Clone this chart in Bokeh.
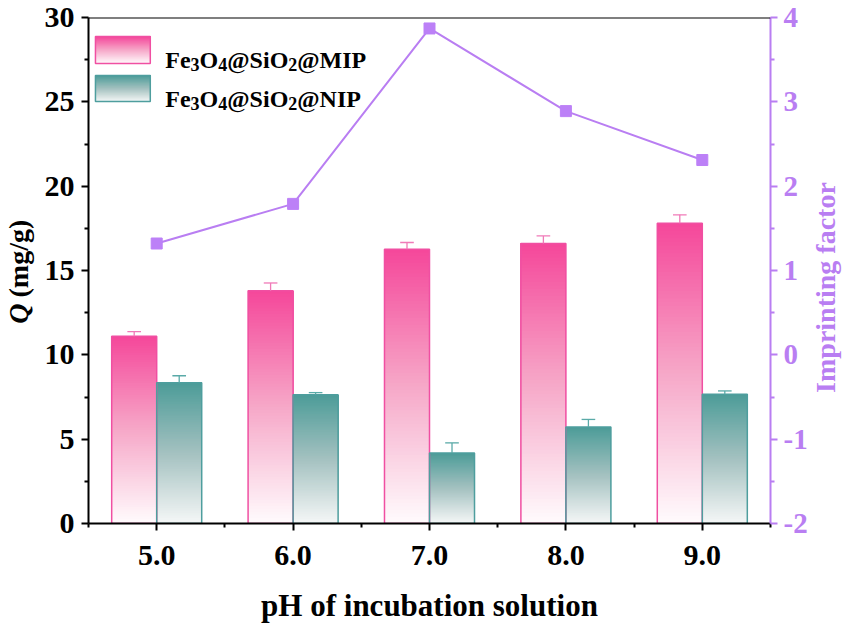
import numpy as np
from bokeh.plotting import figure
from bokeh.layouts import row
from bokeh.models import Range1d, LinearAxis, Label, Span, FixedTicker
from bokeh.core.properties import value
from bokeh.embed import file_html
from bokeh.resources import INLINE

# ---------------- data ----------------
ph = [5.0, 6.0, 7.0, 8.0, 9.0]
ph_labels = ["5.0", "6.0", "7.0", "8.0", "9.0"]
q_mip = [11.1, 13.8, 16.26, 16.6, 17.8]
err_mip = [0.28, 0.46, 0.40, 0.45, 0.50]
q_nip = [8.35, 7.64, 4.18, 5.72, 7.66]
err_nip = [0.41, 0.12, 0.60, 0.45, 0.20]
imprint = [1.32, 1.79, 3.87, 2.89, 2.31]

y_ticks = [0, 5, 10, 15, 20, 25, 30]
y_minor = [2.5, 7.5, 12.5, 17.5, 22.5, 27.5]
if_ticks = [-2, -1, 0, 1, 2, 3, 4]
if_labels = ["-2", "-1", "0", "1", "2", "3", "4"]
if_minor = [-1.5, -0.5, 0.5, 1.5, 2.5, 3.5]
x_minor = [4.5, 5.5, 6.5, 7.5, 8.5, 9.5]

x_title = "pH of incubation solution"
y_title_sym = "Q"
y_title_unit = "(mg/g)"
r_title = "Imprinting factor"

# ---------------- styles ----------------
FONT = "Liberation Serif"
PURPLE = "#B97EF2"
MIP_STOPS = [(0.0, "#FFFBFD"), (0.5, "#F6A8C8"), (1.0, "#F5479A")]
NIP_STOPS = [(0.0, "#F5F7F7"), (0.5, "#A4C1C0"), (1.0, "#4C9C98")]
MIP_EDGE = "#F04FA2"
NIP_EDGE = "#4E9E9E"
MIP_ERR = "#F07AB8"
NIP_ERR = "#5AAAA8"
BAR_W = 0.33
CAP_W = 0.10
NSLICE = 80
H = 628
TOP_B, BOT_B = 17, 105
LEFT_W, RIGHT_W = 41, 41
MAIN_W = 851 - LEFT_W - RIGHT_W


def hex2rgb(h):
    h = h.lstrip("#")
    return np.array([int(h[i:i + 2], 16) for i in (0, 2, 4)], dtype=float)


def interp_color(stops, t):
    for (t0, c0), (t1, c1) in zip(stops[:-1], stops[1:]):
        if t <= t1:
            f = (t - t0) / (t1 - t0)
            c = hex2rgb(c0) * (1 - f) + hex2rgb(c1) * f
            return "#%02x%02x%02x" % tuple(int(round(v)) for v in c)
    return stops[-1][1]


def gradient_slices(lefts, rights, bottoms, tops, stops):
    # each slice runs from its own bottom up to the bar top; drawn bottom-first
    L, R, B, T, C = [], [], [], [], []
    for k in range(NSLICE):
        for l, r, b, t in zip(lefts, rights, bottoms, tops):
            L.append(l)
            R.append(r)
            B.append(b + (t - b) * k / NSLICE)
            T.append(t)
            C.append(interp_color(stops, (k + 0.5) / NSLICE))
    return dict(left=L, right=R, bottom=B, top=T, color=C)


p = figure(width=MAIN_W, height=H, output_backend="svg", toolbar_location=None,
           x_range=Range1d(4.5, 9.5), y_range=Range1d(0, 30),
           min_border_left=47, min_border_right=38, min_border_top=TOP_B,
           min_border_bottom=BOT_B)
p.extra_y_ranges = {"if": Range1d(-2, 4)}
p.xgrid.visible = False
p.ygrid.visible = False
p.outline_line_color = None
p.background_fill_color = "white"
p.border_fill_color = "white"

x = np.array(ph)
mip_l = x - BAR_W
mip_r = x
nip_l = x
nip_r = x + BAR_W

# gradient bars
g = gradient_slices(mip_l, mip_r, [0] * 5, q_mip, MIP_STOPS)
p.quad(left=g["left"], right=g["right"], bottom=g["bottom"], top=g["top"],
       fill_color=g["color"], line_color=None)
g = gradient_slices(nip_l, nip_r, [0] * 5, q_nip, NIP_STOPS)
p.quad(left=g["left"], right=g["right"], bottom=g["bottom"], top=g["top"],
       fill_color=g["color"], line_color=None)
p.quad(left=mip_l, right=mip_r, bottom=0, top=q_mip, fill_color=None,
       line_color=MIP_EDGE, line_width=1.5)
p.quad(left=nip_l, right=nip_r, bottom=0, top=q_nip, fill_color=None,
       line_color=NIP_EDGE, line_width=1.5)

# error bars (upper only)
for cx, v, e, col in ((x - BAR_W / 2, q_mip, err_mip, MIP_ERR),
                      (x + BAR_W / 2, q_nip, err_nip, NIP_ERR)):
    v = np.array(v)
    e = np.array(e)
    p.segment(x0=cx, x1=cx, y0=v, y1=v + e, line_color=col, line_width=1.3)
    p.segment(x0=cx - CAP_W / 2, x1=cx + CAP_W / 2, y0=v + e, y1=v + e,
              line_color=col, line_width=1.3)

# imprinting factor
p.line(ph, imprint, y_range_name="if", line_color=PURPLE, line_width=2)
p.scatter(ph, imprint, y_range_name="if", marker="square", size=11,
          fill_color="#BC80F7", line_color="#BC80F7")

# top frame line
p.add_layout(Span(location=30, dimension="width", line_color="black",
                  line_width=2))


def style_axis(ax, color, tick_size="30px", title_size="28px"):
    ax.axis_line_color = color
    ax.axis_line_width = 2
    ax.major_tick_line_color = color
    ax.minor_tick_line_color = color
    ax.major_tick_line_width = 2
    ax.minor_tick_line_width = 2
    ax.major_tick_out = 7
    ax.major_tick_in = 0
    ax.minor_tick_out = 4
    ax.minor_tick_in = 0
    ax.major_label_text_font = FONT
    ax.major_label_text_font_style = "bold"
    ax.major_label_text_font_size = tick_size
    ax.major_label_text_color = color
    ax.axis_label_text_font = FONT
    ax.axis_label_text_font_style = "bold"
    ax.axis_label_text_font_size = title_size
    ax.axis_label_text_color = color


xa = p.xaxis[0]
style_axis(xa, "black", "30px", "31px")
xa.ticker = FixedTicker(ticks=ph, minor_ticks=x_minor)
xa.major_label_overrides = {v: s for v, s in zip(ph, ph_labels)}
xa.major_label_standoff = 15
xa.axis_label = x_title
xa.axis_label_standoff = 20

ya = p.yaxis[0]
style_axis(ya, "black", "30px", "28px")
ya.ticker = FixedTicker(ticks=y_ticks, minor_ticks=y_minor)
ya.major_label_standoff = 7

ra = LinearAxis(y_range_name="if")
style_axis(ra, PURPLE, "29px", "28px")
ra.ticker = FixedTicker(ticks=if_ticks, minor_ticks=if_minor)
ra.major_label_overrides = {v: s for v, s in zip(if_ticks, if_labels)}
ra.major_label_standoff = 6
p.add_layout(ra, "right")

# legend (manual, gradient boxes)
leg_x0, leg_x1 = 4.551, 4.953
leg_rows = [
    ("MIP", 28.874, 27.273, 27.49, MIP_STOPS, MIP_EDGE),
    ("NIP", 26.562, 25.020, 25.18, NIP_STOPS, NIP_EDGE),
]
WIDTH = {"F": 0.611, "e": 0.444, "O": 0.778, "@": 0.930, "S": 0.556,
         "i": 0.278, "M": 0.944, "I": 0.389, "P": 0.611, "N": 0.722,
         "2": 0.5, "3": 0.5, "4": 0.5}
MAIN, SUB = 24, 18
text_x = 5.063
for name, top, bot, base, stops, edge in leg_rows:
    g = gradient_slices([leg_x0], [leg_x1], [bot], [top], stops)
    p.quad(left=g["left"], right=g["right"], bottom=g["bottom"], top=g["top"],
           fill_color=g["color"], line_color=None)
    p.quad(left=[leg_x0], right=[leg_x1], bottom=[bot], top=[top],
           fill_color=None, line_color=edge, line_width=1.5)
    pieces = [("Fe", False), ("3", True), ("O", False), ("4", True),
              ("@SiO", False), ("2", True), ("@" + name, False)]
    off = 0.0
    for txt, sub in pieces:
        size = SUB if sub else MAIN
        yb = base - (5 / 16.867 if sub else 0)
        p.add_layout(Label(x=text_x, y=yb, x_offset=off, text=txt,
                           text_align="left", text_baseline="alphabetic",
                           text_font=FONT, text_font_style="bold",
                           text_font_size="%dpx" % size, text_color="black"))
        off += sum(WIDTH[c] for c in txt) * size


def side_panel(w):
    # frame is aligned with the main frame by the row layout, so the y range
    # is set in pixels measured from the bottom of the page
    f = figure(width=w, height=H, output_backend="svg", toolbar_location=None,
               x_range=Range1d(0, w), y_range=Range1d(BOT_B, H - TOP_B),
               x_axis_type=None, y_axis_type=None,
               min_border_left=0, min_border_right=0, min_border_top=TOP_B,
               min_border_bottom=BOT_B)
    f.outline_line_color = None
    f.background_fill_color = "white"
    f.border_fill_color = "white"
    return f


# left title: italic Q + (mg/g), reading bottom to top
lf = side_panel(LEFT_W)
lf.text(x=[18], y=[H - 303], text=[y_title_sym], angle=np.pi / 2,
        text_align="right", text_baseline="alphabetic",
        text_font=value(FONT), text_font_style="bold italic",
        text_font_size="28px", text_color="black")
lf.text(x=[18], y=[H - 297], text=[y_title_unit], angle=np.pi / 2,
        text_align="left", text_baseline="alphabetic",
        text_font=value(FONT), text_font_style="bold",
        text_font_size="28px", text_color="black")

# right title, reading bottom to top
rf = side_panel(RIGHT_W)
rf.text(x=[15], y=[H - 287], text=[r_title], angle=np.pi / 2,
        text_align="center", text_baseline="alphabetic",
        text_font=value(FONT), text_font_style="bold",
        text_font_size="28px", text_color=PURPLE)

layout = row(lf, p, rf, spacing=0)
open("out.html", "w").write(file_html(layout, INLINE))
